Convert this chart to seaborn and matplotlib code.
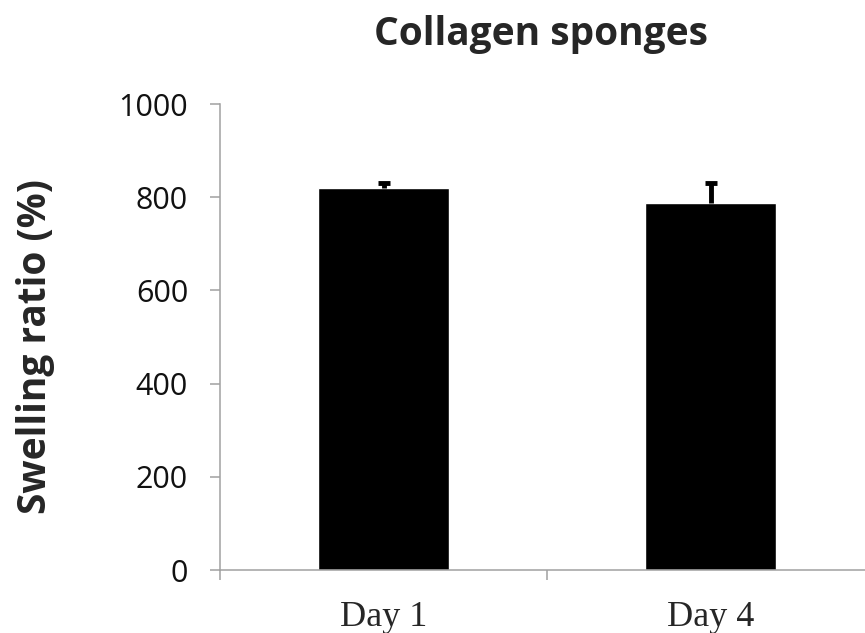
import numpy as np
import pandas as pd
import matplotlib
matplotlib.use("Agg")
import matplotlib.pyplot as plt
import seaborn as sns

days = ["Day 1", "Day 4"]
swelling = [819, 788]  # [%]
swelling_sd = [11, 42]  # upper error only

sns.set_style("white")
plt.rcParams["font.family"] = ["Open Sans", "DejaVu Sans"]

df = pd.DataFrame({"day": days, "swelling": swelling})

fig = plt.figure(figsize=(8.65, 6.33), dpi=100)
ax = fig.add_axes([0.2543, 0.0995, 0.7457, 0.7362])

sns.barplot(data=df, x="day", y="swelling", color="black", saturation=1,
            width=0.4, errorbar=None, ax=ax)
eb = ax.errorbar(x=np.arange(len(days)), y=swelling,
                 yerr=[np.zeros(len(days)), swelling_sd],
                 fmt="none", ecolor="black", elinewidth=3.5, capsize=4.5, capthick=3.5)
eb[1][0].set_visible(False)  # only the upper cap

# axis styling (gray axes, ticks outside, boundary ticks on x)
for side in ["top", "right"]:
    ax.spines[side].set_visible(False)
for side in ["left", "bottom"]:
    ax.spines[side].set_color("#a0a0a0")
    ax.spines[side].set_linewidth(1.1)
ax.set_xticks([-0.5, 0.5, 1.5], minor=True)
ax.tick_params(axis="x", which="major", bottom=True, length=0, pad=22)
ax.tick_params(axis="x", which="minor", bottom=True, length=7, width=1.1,
               color="#a0a0a0", direction="out")
ax.tick_params(axis="y", left=True, length=7, width=1.1, color="#a0a0a0",
               direction="out", labelsize=22, pad=16, labelcolor="#111111")
for lbl in ax.get_xticklabels():
    lbl.set_fontfamily("Liberation Serif")
    lbl.set_fontsize(26)

# limits last: set_xticks would widen them again
ax.set_yticks(np.arange(0, 1001, 200))
ax.set_ylim(0, 1000)
ax.set_xlim(-0.5, 1.472)

ax.set_xlabel("")
ax.set_ylabel("Swelling ratio (%)", fontsize=28, fontweight="bold")
ax.yaxis.set_label_coords(-0.255, 0.48)
fig.suptitle("Collagen sponges", fontsize=28, fontweight="bold", x=0.626, y=0.977)

fig.savefig("out.png", dpi=100)
